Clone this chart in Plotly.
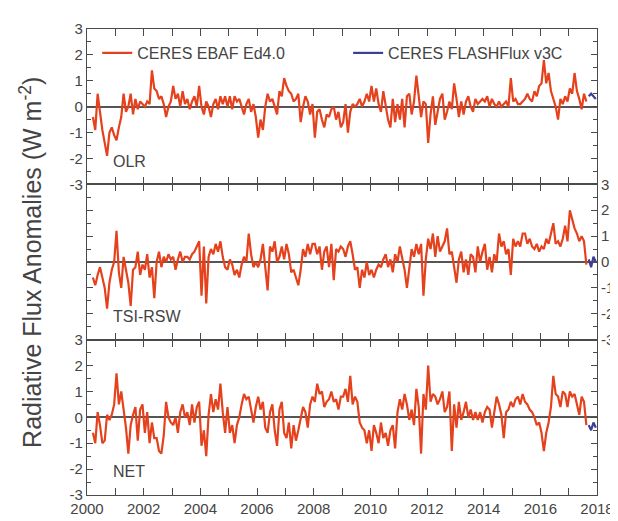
import plotly.graph_objects as go

# ---------------- data (monthly anomalies, W m-2) ----------------
start_year = 2000
start_month = 3  # EBAF starts March 2000

olr_ebaf = [
    -0.4, -0.9, 0.5, -0.3, -0.9, -1.4, -1.9, -1.0, -0.8, -1.1,
    -1.3, -0.8, -0.4, 0.5, -0.2, 0.0, 0.5, -0.3, 0.3, -0.1, 0.2, 0.1,
    0.0, 0.2, 0.1, 1.4, 0.7, 0.6, 0.3, 0.4, 0.1, -0.4, 0.0, 0.2,
    0.8, 0.3, 0.5, 0.0, 0.6, 0.1, 0.3, -0.1, 0.2, 0.4, 0.0, 0.8,
    0.0, -0.3, 0.2, 0.0, -0.4, 0.1, 0.3, -0.1, 0.4, 0.1, 0.4, 0.0,
    0.4, -0.1, 0.4, 0.2, 0.3, 0.0, -0.3, 0.1, 0.3, -0.2, 0.1, -0.4,
    -1.2, -0.5, -0.9, 0.0, 0.5, 0.2, 0.3, 0.0, -0.3, 0.6, 0.4, 1.1,
    0.8, 0.6, 0.5, 0.2, 0.3, 0.5, -0.6, 0.0, 0.4, 0.2, -0.3, 0.1,
    -1.2, -0.2, -0.1, -0.5, -0.8, -0.3, -0.4, -0.1, 0.0, -0.5, -0.2, -0.8,
    -0.6, 0.1, -1.0, -0.2, 0.1, 0.0, 0.1, 0.3, 0.0, 0.2, 0.5, 0.2,
    0.8, 0.2, 0.7, 0.1, -0.2, 0.6, 0.0, -0.5, -0.8, 0.3, -0.6, 0.1,
    -0.5, 0.3, -0.8, 0.4, 0.5, -0.3, 0.2, 1.2, 0.4, -0.4, 0.2, 0.1,
    -1.4, -0.3, 0.4, -0.7, -0.2, 0.3, 0.5, -0.5, -0.2, 0.2, -0.1, 0.9,
    0.3, -0.4, 0.2, -0.3, 0.2, 0.4, 0.0, -0.2, 0.3, 0.1, 0.2, 0.3,
    0.2, 0.4, 0.0, 0.3, 0.1, 0.0, 0.2, 0.0, 0.1, 0.2, 0.0, 1.1,
    0.2, 0.3, 0.1, 0.1, 0.2, 0.3, 0.5, 0.3, 0.2, 0.6, 0.4, 0.8,
    0.9, 1.8, 0.9, 1.3, 0.6, 0.3, 0.0, -0.5, 0.3, 0.1, 0.4, 0.2,
    0.7, 0.5, 1.3, 0.6, 0.3, -0.1, 0.5, 0.2,
]

tsi_rsw_ebaf = [
    -0.6, -0.9, -0.5, -0.2, -0.6, -1.0, -1.8, -0.8, -0.3, 0.0,
    1.2, -0.4, -1.0, 0.2, -0.3, -0.8, -1.7, -0.3, -0.2, 0.4, -0.5, -0.1,
    -0.3, 0.3, -0.6, -0.2, -1.4, 0.0, 0.4, -0.2, 0.2, 0.0, 0.3, 0.1,
    0.2, -0.3, 0.1, 0.4, 0.0, 0.2, 0.2, 0.1, 0.3, 0.4, 0.6, 0.8,
    -1.3, 0.6, -1.6, 0.2, 0.5, 0.3, 0.7, 0.4, 0.8, 0.2, -0.2, -0.3,
    0.1, -0.1, -0.5, -0.3, -0.6, -0.1, 0.2, 0.0, 1.1, 0.3, -0.2, 0.0,
    -0.2, 0.1, 0.7, -0.2, -1.1, 0.6, 0.4, 0.8, 0.0, 0.2, 0.6, 0.1,
    0.7, 0.3, -0.4, -0.3, -0.6, -0.9, -0.3, 0.5, 0.2, 0.7, 0.3, 0.7,
    0.7, 0.3, 0.6, -0.3, 0.4, 0.6, -0.2, 0.7, -0.7, 0.5, 0.4, 0.6,
    0.5, 0.2, 0.6, 0.8, 0.3, -0.3, -0.2, -1.0, -0.3, -0.6, 0.0, -0.5,
    -0.3, -0.6, -0.3, -0.1, -0.2, 0.1, 0.3, -0.2, 0.1, -0.4, 0.3, 0.0,
    0.6, 0.2, -0.3, -1.0, -0.2, 0.5, 0.2, 0.7, 0.3, 0.7, -1.3, 0.1,
    0.9, 0.5, 1.1, 0.2, 1.0, 0.4, 0.6, 0.8, 1.3, 0.3, 0.4, -0.2,
    -0.8, 0.1, 0.4, -0.4, 0.1, -0.5, 0.3, 0.2, -0.4, 0.6, 0.0, 0.4,
    0.7, -0.3, 0.2, -0.4, 0.3, 0.0, 1.1, 0.6, 0.8, 0.3, 0.5, -0.5,
    0.9, 0.6, 0.8, 0.6, 1.1, 1.1, 0.7, 0.9, 0.6, 0.5, 0.7, 0.4,
    0.6, 0.5, 0.9, 0.7, 1.1, 1.5, 0.7, 0.8, 0.6, 0.9, 1.4, 0.8,
    2.0, 1.7, 1.3, 1.1, 0.8, 1.0, 0.8, -0.1,
]

net_ebaf = [
    -0.6, -1.0, 0.2, -0.3, -1.0, -0.9, 0.1, -0.1, 0.1, 0.5,
    1.7, 0.5, 1.0, 0.3, -0.4, -1.4, -0.3, 0.1, 0.4, -0.9, 0.3, 0.5,
    -0.6, 0.2, -1.0, -0.2, -0.8, -0.8, -1.3, -1.4, -0.7, 0.6, 0.0, -0.2,
    -0.3, 0.0, -0.6, 0.2, 0.5, 0.0, 0.2, -0.3, 0.5, -0.2, 0.4, 0.6,
    -1.1, -0.5, -1.5, 0.1, 0.9, 0.2, 0.7, 0.3, 1.3, 0.2, -0.6, 0.4,
    -0.6, -0.3, -1.0, -0.3, 0.0, 0.5, 0.9, 0.7, 0.8, 0.3, -0.2, 0.4,
    0.8, 0.3, 0.6, -0.4, -0.6, 0.2, 0.5, -0.5, -1.1, 0.3, 0.6, -0.6,
    -0.8, -0.2, -1.2, -0.3, -0.9, -0.5, 0.0, 0.4, 0.2, -0.4, 0.5, 0.8,
    0.6, 1.3, 0.9, 1.0, 0.4, 0.6, 0.7, 1.0, 0.6, 0.7, 0.3, 0.8,
    0.8, 1.1, 0.6, 1.6, 0.5, 0.8, 0.6, -0.2, -0.4, -0.5, -1.0, -0.5,
    -1.3, -0.3, -0.6, -1.0, -0.2, -0.8, -0.6, -1.1, -0.5, -0.3, -1.2, 0.2,
    0.7, 0.3, 0.9, 0.5, -0.1, 0.3, -0.3, 1.1, 0.4, -1.4, 0.9, 0.3,
    2.0, 0.6, 0.9, 0.8, 0.5, 0.7, 1.0, 0.2, 0.4, 1.0, -1.3, 0.5,
    -0.4, 0.6, -0.1, 0.2, 0.6, 0.0, 0.3, -0.1, 0.2, -0.1, 0.2, -0.2,
    0.2, 0.4, 0.3, -0.4, 0.2, 0.8, 0.5, 0.1, -0.8, 0.2, 0.3, 0.6,
    0.4, 0.7, 0.8, 0.5, 0.9, 0.6, 0.5, 0.3, 0.2, 0.0, -0.3, -0.2,
    -0.6, -1.3, -0.6, -0.2, 0.4, 1.6, 0.9, 0.8, 0.4, 1.0, 0.9, 0.4,
    1.0, 0.8, 0.9, 0.5, 0.1, 0.8, 0.6, -0.3,
]

# FLASHFlux v3C (Sep - Dec 2017)
flash_start_year = 2017
flash_start_month = 9
olr_flash = [0.4, 0.5, 0.4, 0.3]
tsi_rsw_flash = [0.1, -0.2, 0.2, 0.0]
net_flash = [-0.3, -0.5, -0.2, -0.4]

panel_names = ["OLR", "TSI-RSW", "NET"]
x_tick_vals = [2000, 2002, 2004, 2006, 2008, 2010, 2012, 2014, 2016, 2018]
y_tick_vals = [-3, -2, -1, 0, 1, 2, 3]


def decimal_years(y0, m0, n):
    return [y0 + (m0 - 1 + k) / 12.0 + 1 / 24.0 for k in range(n)]


ebaf_series = [olr_ebaf, tsi_rsw_ebaf, net_ebaf]
flash_series = [olr_flash, tsi_rsw_flash, net_flash]

RED = "#E5411C"
BLUE = "#3B3F98"
FRAME = "#4a4a4a"
TXT = "#444444"
FONT = "Liberation Sans, Arial, sans-serif"

fig = go.Figure()

for i in range(3):
    xa = "x" if i == 0 else f"x{i+1}"
    ya = "y" if i == 0 else f"y{i+1}"
    ev = ebaf_series[i]
    fv = flash_series[i]
    fig.add_trace(go.Scatter(
        x=decimal_years(start_year, start_month, len(ev)), y=ev,
        mode="lines", line=dict(color=RED, width=2.2),
        name="CERES EBAF Ed4.0", showlegend=(i == 0), legend="legend",
        xaxis=xa, yaxis=ya))
    fig.add_trace(go.Scatter(
        x=decimal_years(flash_start_year, flash_start_month, len(fv)), y=fv,
        mode="lines", line=dict(color=BLUE, width=2.2),
        name="CERES FLASHFlux v3C", showlegend=(i == 0), legend="legend2",
        xaxis=xa, yaxis=ya))

leg_common = dict(orientation="h", xanchor="left", yanchor="top", y=0.985,
                  bgcolor="rgba(0,0,0,0)", font=dict(size=16, color=TXT, family=FONT),
                  itemwidth=30)

layout = dict(
    width=618, height=521,
    margin=dict(l=79, r=27, t=17, b=24),
    paper_bgcolor="white", plot_bgcolor="white",
    font=dict(family=FONT, color=TXT, size=15),
    showlegend=True,
    legend=dict(x=0.02, **leg_common),
    legend2=dict(x=0.512, **leg_common),
)

for i in range(3):
    xk = "xaxis" if i == 0 else f"xaxis{i+1}"
    yk = "yaxis" if i == 0 else f"yaxis{i+1}"
    ya = "y" if i == 0 else f"y{i+1}"
    dom = [(2 - i) / 3.0, (3 - i) / 3.0]
    layout[xk] = dict(
        range=[2000, 2018], anchor=ya, showline=True, linecolor=FRAME, linewidth=1.2,
        mirror="ticks", ticks="inside", ticklen=7, tickwidth=1.3, tickcolor=FRAME,
        tickvals=x_tick_vals, ticktext=[str(v) for v in x_tick_vals],
        showticklabels=(i == 2), showgrid=False, zeroline=False,
        minor=dict(ticks="inside", dtick=1, tick0=2000, ticklen=7, tickwidth=1.3,
                   tickcolor=FRAME, showgrid=False),
        tickfont=dict(size=15, color=TXT),
    )
    if i > 0:
        layout[xk]["matches"] = "x"
    layout[yk] = dict(
        domain=dom, range=[-3, 3], anchor="x" if i == 0 else f"x{i+1}",
        side="right" if i == 1 else "left",
        showline=True, linecolor=FRAME, linewidth=1.2, mirror="ticks",
        ticks="inside", ticklen=6, tickwidth=1.3, tickcolor=FRAME,
        tickvals=y_tick_vals, ticktext=[str(v) for v in y_tick_vals],
        showgrid=False, zeroline=True, zerolinecolor="#555555", zerolinewidth=2,
        minor=dict(ticks="inside", dtick=0.5, tick0=0, ticklen=4, tickwidth=1.2,
                   tickcolor=FRAME, showgrid=False),
        tickfont=dict(size=15, color=TXT),
    )

fig.update_layout(**layout)

# panel labels
label_y = [-2.1, -2.1, -2.1]
for i, name in enumerate(panel_names):
    xr = "x" if i == 0 else f"x{i+1}"
    yr = "y" if i == 0 else f"y{i+1}"
    fig.add_annotation(x=2000.85, y=label_y[i], xref=xr, yref=yr, text=name,
                       showarrow=False, xanchor="left", yanchor="middle",
                       font=dict(size=16, color=TXT, family=FONT))

fig.add_annotation(x=-0.11, y=0.5, xref="paper", yref="paper",
                   text="Radiative Flux Anomalies (W m<sup>-2</sup>)",
                   textangle=-90, showarrow=False, xanchor="center", yanchor="middle",
                   font=dict(size=25, color=TXT, family=FONT))

fig.write_html("out.html")
